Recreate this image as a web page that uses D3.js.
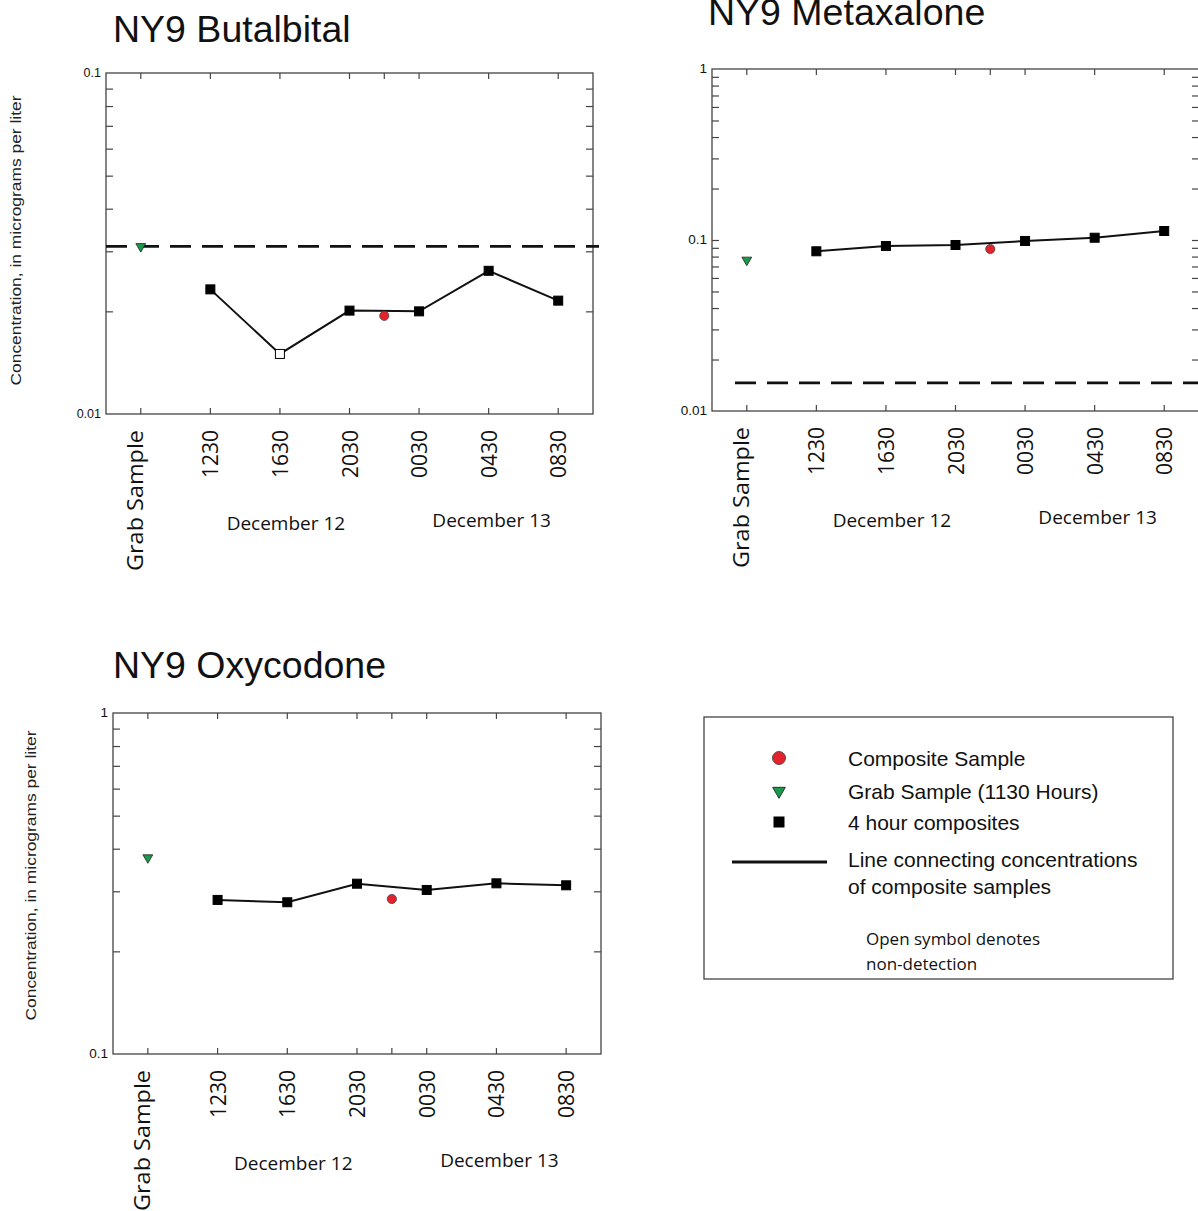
<!DOCTYPE html>
<html>
<head>
<meta charset="utf-8">
<script src="https://cdn.jsdelivr.net/npm/d3@7"></script>
<style>
  html, body { margin: 0; padding: 0; background: #fff; }
  svg { display: block; }
</style>
</head>
<body>
<svg id="chart" width="1198" height="1211"></svg>
<script>
// ---------------- DATA ----------------
const categories = ["Grab Sample", "1230", "1630", "2030", "0030", "0430", "0830"];
const compositeTimes = ["1230", "1630", "2030", "0030", "0430", "0830"];
const dayLabels = ["December 12", "December 13"];
const yAxisTitle = "Concentration, in micrograms per liter";

// NY9 Butalbital
const butalbitalComposites = [0.0232, 0.0150, 0.0201, 0.0200, 0.0263, 0.0215];
const butalbitalDetected   = [true, false, true, true, true, true];
const butalbitalGrab = 0.031;
const butalbitalComposite = 0.0194;
const butalbitalReportLevel = 0.031;
const butalbitalDecades = [0.01, 0.1];
const butalbitalTickLabels = ["0.01", "0.1"];

// NY9 Metaxalone
const metaxaloneComposites = [0.0859, 0.0922, 0.0935, 0.0987, 0.1031, 0.1129];
const metaxaloneDetected   = [true, true, true, true, true, true];
const metaxaloneGrab = 0.0764;
const metaxaloneComposite = 0.0886;
const metaxaloneReportLevel = 0.0146;
const metaxaloneDecades = [0.01, 0.1, 1];
const metaxaloneTickLabels = ["0.01", "0.1", "1"];

// NY9 Oxycodone
const oxycodoneComposites = [0.283, 0.2786, 0.3158, 0.3027, 0.3166, 0.3124];
const oxycodoneDetected   = [true, true, true, true, true, true];
const oxycodoneGrab = 0.3766;
const oxycodoneComposite = 0.2848;
const oxycodoneDecades = [0.1, 1];
const oxycodoneTickLabels = ["0.1", "1"];

// Legend
const legendLabels = ["Composite Sample", "Grab Sample (1130 Hours)", "4 hour composites"];
const legendLineLabel = ["Line connecting concentrations", "of composite samples"];
const legendNote = ["Open symbol denotes", "non-detection"];

// ---------------- STYLE ----------------
const GREEN = "#1b9a4b";
const RED = "#e5222b";
const ARIAL = "'Liberation Sans', Arial, sans-serif";
const MYRIAD = "'Open Sans', 'Noto Sans', sans-serif";

const svg = d3.select("#chart");

function drawPanel(cfg) {
  const g = svg.append("g");
  const x = d3.scalePoint().domain(categories).range([cfg.left, cfg.right]).padding(0.5);
  const y = d3.scaleLog().domain([cfg.decades[0], cfg.decades[cfg.decades.length - 1]])
              .range([cfg.bottom, cfg.top]);
  const midX = (x("2030") + x("0030")) / 2;

  // title
  g.append("text").attr("x", cfg.titleX).attr("y", cfg.titleY)
    .attr("font-family", ARIAL).attr("font-size", 37.5).attr("fill", "#111")
    .text(cfg.title);

  // y axis title
  if (cfg.yTitleX != null) {
    g.append("text")
      .attr("transform", `translate(${cfg.yTitleX},${(cfg.top + cfg.bottom) / 2 + cfg.yTitleShift}) rotate(-90)`)
      .attr("text-anchor", "middle").attr("font-family", ARIAL).attr("font-size", 15)
      .attr("textLength", 290).attr("lengthAdjust", "spacingAndGlyphs")
      .attr("fill", "#222").text(yAxisTitle);
  }

  // minor tick values
  const minor = [];
  for (let i = 0; i < cfg.decades.length - 1; i++) {
    for (let k = 2; k <= 9; k++) minor.push(cfg.decades[i] * k);
  }
  const inner = cfg.decades.slice(1, -1);
  const yTickVals = minor.concat(inner);

  // left y axis (inward ticks)
  const yl = g.append("g").attr("transform", `translate(${cfg.left},0)`)
    .call(d3.axisLeft(y).tickValues(yTickVals).tickSize(-7).tickFormat(""));
  yl.select(".domain").remove();
  yl.selectAll("line").attr("stroke", "#444").attr("stroke-width", 1.2);

  // right y axis (inward ticks)
  const yr = g.append("g").attr("transform", `translate(${cfg.right},0)`)
    .call(d3.axisRight(y).tickValues(yTickVals).tickSize(-7).tickFormat(""));
  yr.select(".domain").remove();
  yr.selectAll("line").attr("stroke", "#444").attr("stroke-width", 1.2);

  // decade labels
  g.selectAll(".declab").data(cfg.decades).enter().append("text")
    .attr("x", cfg.left - 5).attr("y", d => y(d)).attr("dy", "0.33em")
    .attr("text-anchor", "end").attr("font-family", ARIAL).attr("font-size", cfg.tickFont)
    .attr("fill", "#111").text((d, i) => cfg.tickLabels[i]);

  // x ticks top
  const topTicks = categories.map(c => x(c)).concat([midX]);
  g.selectAll(".tt").data(topTicks).enter().append("line")
    .attr("x1", d => d).attr("x2", d => d).attr("y1", cfg.top).attr("y2", cfg.top + 6)
    .attr("stroke", "#444").attr("stroke-width", 1.2);
  const botTicks = categories.map(c => x(c)).concat(cfg.bottomMid ? [midX] : []);
  g.selectAll(".bt").data(botTicks).enter().append("line")
    .attr("x1", d => d).attr("x2", d => d).attr("y1", cfg.bottom).attr("y2", cfg.bottom - 6)
    .attr("stroke", "#444").attr("stroke-width", 1.2);

  // x labels (rotated)
  const xa = g.append("g").attr("transform", `translate(0,${cfg.bottom})`)
    .call(d3.axisBottom(x).tickSize(0).tickPadding(0));
  xa.select(".domain").remove();
  xa.selectAll("text")
    .attr("transform", "rotate(-90)")
    .attr("x", -16).attr("y", 0)
    .attr("dy", d => d === "Grab Sample" ? "0.08em" : "0.36em")
    .attr("text-anchor", "end")
    .attr("font-family", MYRIAD).attr("font-size", 21).attr("fill", "#111")
    .each(function (d) {
      if (d === "Grab Sample") {
        d3.select(this).attr("textLength", 141).attr("lengthAdjust", "spacingAndGlyphs");
      }
    });

  // day labels
  g.append("text").attr("x", x("1630") + 6).attr("y", cfg.bottom + 116)
    .attr("text-anchor", "middle").attr("font-family", MYRIAD).attr("font-size", 19)
    .attr("fill", "#111").text(dayLabels[0]);
  g.append("text").attr("x", x("0430") + 3).attr("y", cfg.bottom + 113)
    .attr("text-anchor", "middle").attr("font-family", MYRIAD).attr("font-size", 19)
    .attr("fill", "#111").text(dayLabels[1]);

  // frame
  g.append("rect").attr("x", cfg.left).attr("y", cfg.top)
    .attr("width", cfg.right - cfg.left).attr("height", cfg.bottom - cfg.top)
    .attr("fill", "none").attr("stroke", "#444").attr("stroke-width", 1.3);

  // reporting level dashed line
  if (cfg.report != null) {
    g.append("line").attr("x1", cfg.dashStart).attr("x2", cfg.right + 6)
      .attr("y1", y(cfg.report)).attr("y2", y(cfg.report))
      .attr("stroke", "#111").attr("stroke-width", 2.8).attr("stroke-dasharray", "21,11");
  }

  // connecting line
  const pts = compositeTimes.map((t, i) => ({ t, v: cfg.composites[i], det: cfg.detected[i] }));
  g.append("path").datum(pts)
    .attr("d", d3.line().x(d => x(d.t)).y(d => y(d.v)))
    .attr("fill", "none").attr("stroke", "#111").attr("stroke-width", 2);

  // squares
  g.selectAll(".sq").data(pts).enter().append("rect")
    .attr("x", d => x(d.t) - 4.5).attr("y", d => y(d.v) - 4.5)
    .attr("width", 9).attr("height", 9)
    .attr("fill", d => d.det ? "#000" : "#fff").attr("stroke", "#000").attr("stroke-width", 1);

  // composite sample (red)
  g.append("circle").attr("cx", midX).attr("cy", y(cfg.composite)).attr("r", 4.6)
    .attr("fill", RED).attr("stroke", "#444").attr("stroke-width", 0.8);

  // grab sample (green down-triangle)
  g.append("path")
    .attr("d", d3.symbol().type(d3.symbolTriangle).size(42)())
    .attr("transform", `translate(${x("Grab Sample")},${y(cfg.grab)}) rotate(180)`)
    .attr("fill", GREEN).attr("stroke", "#222").attr("stroke-width", 0.8);
}

drawPanel({
  title: "NY9 Butalbital", titleX: 113, titleY: 42,
  left: 106, right: 593, top: 73, bottom: 414,
  decades: butalbitalDecades, tickLabels: butalbitalTickLabels, tickFont: 12.5,
  composites: butalbitalComposites, detected: butalbitalDetected,
  grab: butalbitalGrab, composite: butalbitalComposite,
  report: butalbitalReportLevel, dashStart: 106, bottomMid: false,
  yTitleX: 21, yTitleShift: -3
});

drawPanel({
  title: "NY9 Metaxalone", titleX: 708, titleY: 25,
  left: 712, right: 1199, top: 69, bottom: 411,
  decades: metaxaloneDecades, tickLabels: metaxaloneTickLabels, tickFont: 13.5,
  composites: metaxaloneComposites, detected: metaxaloneDetected,
  grab: metaxaloneGrab, composite: metaxaloneComposite,
  report: metaxaloneReportLevel, dashStart: 735, bottomMid: false,
  yTitleX: null
});

drawPanel({
  title: "NY9 Oxycodone", titleX: 113, titleY: 678,
  left: 113, right: 601, top: 713, bottom: 1054,
  decades: oxycodoneDecades, tickLabels: oxycodoneTickLabels, tickFont: 13.5,
  composites: oxycodoneComposites, detected: oxycodoneDetected,
  grab: oxycodoneGrab, composite: oxycodoneComposite,
  report: null, bottomMid: true,
  yTitleX: 36, yTitleShift: -8
});

// ---------------- LEGEND ----------------
const lg = svg.append("g");
lg.append("rect").attr("x", 704).attr("y", 717).attr("width", 469).attr("height", 262)
  .attr("fill", "#fff").attr("stroke", "#444").attr("stroke-width", 1.3);

const symX = 779, textX = 848;
const rowY = [758, 791, 822];
lg.append("circle").attr("cx", symX).attr("cy", rowY[0]).attr("r", 6.5)
  .attr("fill", RED).attr("stroke", "#444").attr("stroke-width", 0.9);
lg.append("path")
  .attr("d", d3.symbol().type(d3.symbolTriangle).size(70)())
  .attr("transform", `translate(${symX},${rowY[1]}) rotate(180)`)
  .attr("fill", GREEN).attr("stroke", "#222").attr("stroke-width", 0.9);
lg.append("rect").attr("x", symX - 5.5).attr("y", rowY[2] - 5.5).attr("width", 11).attr("height", 11)
  .attr("fill", "#000");
lg.append("line").attr("x1", 732).attr("x2", 827).attr("y1", 862).attr("y2", 862)
  .attr("stroke", "#111").attr("stroke-width", 2.8);

lg.selectAll(".lt").data(legendLabels).enter().append("text")
  .attr("x", textX).attr("y", (d, i) => rowY[i] + 8)
  .attr("font-family", ARIAL).attr("font-size", 21).attr("fill", "#111").text(d => d);
lg.selectAll(".ll").data(legendLineLabel).enter().append("text")
  .attr("x", textX).attr("y", (d, i) => 867 + i * 27)
  .attr("font-family", ARIAL).attr("font-size", 21).attr("fill", "#111").text(d => d);
lg.selectAll(".ln").data(legendNote).enter().append("text")
  .attr("x", 866).attr("y", (d, i) => 945 + i * 25)
  .attr("font-family", MYRIAD).attr("font-size", 17).attr("fill", "#111").text(d => d);
</script>
</body>
</html>
